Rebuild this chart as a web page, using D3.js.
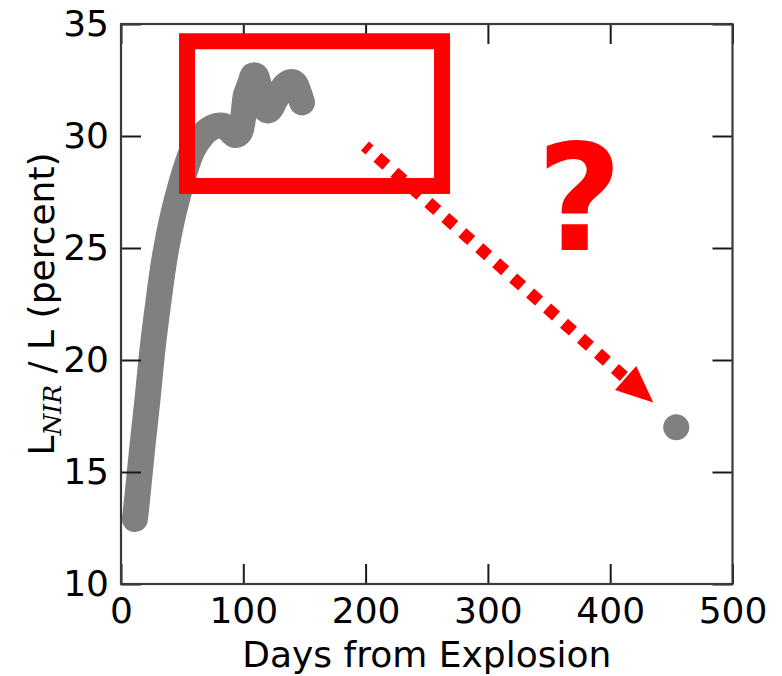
<!DOCTYPE html>
<html>
<head>
<meta charset="utf-8">
<script src="https://cdn.jsdelivr.net/npm/d3@7"></script>
<style>
  html, body { margin: 0; padding: 0; background: #fff; }
  svg { display: block; }
  text { font-family: "DejaVu Sans", sans-serif; }
</style>
</head>
<body>
<svg id="chart" width="782" height="676"></svg>
<script>
// NIR fraction of the bolometric light curve, early phase
const days = [11.4, 13.1, 17.2, 21.6, 25.7, 30.7, 36.4, 45.4, 58.5, 66, 72, 78, 84, 89, 93, 97,
              100, 102, 104, 106, 108, 110, 113, 116, 119, 122, 126, 130, 134, 138, 142, 145, 148];
const nirPercent = [12.9, 13.75, 15.98, 18.21, 20.45, 22.65, 24.8, 27.1, 29.375, 30.0, 30.3, 30.45, 30.45, 30.25, 30.05, 30.15,
                    30.9, 31.8, 32.1, 32.4, 32.7, 32.7, 32.2, 31.5, 31.15, 31.2, 31.6, 31.95, 32.25, 32.4, 32.35, 32.0, 31.5];

// late-time point
const lateDay = [454];
const latePercent = [17.0];

// highlight box and arrow (data coordinates)
const boxDays = [54, 262.5];
const boxPercent = [27.77, 34.23];
const arrowDays = [199.5, 435.2];
const arrowPercent = [29.55, 18.1];

const xTicks = [0, 100, 200, 300, 400, 500];
const yTicks = [10, 15, 20, 25, 30, 35];

const W = 782, H = 676;
const margin = { left: 121, right: W - 732.5, top: 24, bottom: H - 584 };

const svg = d3.select("#chart");

const x = d3.scaleLinear().domain([0, 500]).range([margin.left, W - margin.right]);
const y = d3.scaleLinear().domain([10, 35]).range([H - margin.bottom, margin.top]);

const gray = "#808080";
const red = "#ff0000";

// curve
const line = d3.line()
  .x((d, i) => x(days[i]))
  .y((d, i) => y(nirPercent[i]))
  .curve(d3.curveCatmullRom.alpha(0.5));

svg.append("path")
  .datum(days)
  .attr("d", line)
  .attr("fill", "none")
  .attr("stroke", gray)
  .attr("stroke-width", 26)
  .attr("stroke-linecap", "round")
  .attr("stroke-linejoin", "round");

svg.selectAll("circle.late")
  .data(lateDay)
  .join("circle")
  .attr("class", "late")
  .attr("cx", (d) => x(d))
  .attr("cy", (d, i) => y(latePercent[i]))
  .attr("r", 13)
  .attr("fill", gray);

// axes, ticks pointing inward on all four sides
const tickLen = 20;
const axisStyle = (g) => {
  g.select(".domain").remove();
  g.selectAll(".tick line").attr("stroke", "#1a1a1a").attr("stroke-width", 2);
  g.selectAll(".tick text")
    .attr("fill", "#000")
    .style("font-size", "36px")
    .style("font-family", "'DejaVu Sans', sans-serif");
};

svg.append("g")
  .attr("transform", `translate(0,${H - margin.bottom})`)
  .call(d3.axisBottom(x).tickValues(xTicks).tickFormat(d3.format("d"))
    .tickSizeInner(-tickLen).tickSizeOuter(0).tickPadding(13))
  .call(axisStyle);

svg.append("g")
  .attr("transform", `translate(0,${margin.top})`)
  .call(d3.axisTop(x).tickValues(xTicks).tickFormat("")
    .tickSizeInner(-tickLen).tickSizeOuter(0))
  .call(axisStyle);

svg.append("g")
  .attr("transform", `translate(${margin.left},0)`)
  .call(d3.axisLeft(y).tickValues(yTicks).tickFormat(d3.format("d"))
    .tickSizeInner(-tickLen).tickSizeOuter(0).tickPadding(12))
  .call(axisStyle);

svg.append("g")
  .attr("transform", `translate(${W - margin.right},0)`)
  .call(d3.axisRight(y).tickValues(yTicks).tickFormat("")
    .tickSizeInner(-tickLen).tickSizeOuter(0))
  .call(axisStyle);

// frame
svg.append("rect")
  .attr("x", margin.left)
  .attr("y", margin.top)
  .attr("width", W - margin.left - margin.right)
  .attr("height", H - margin.top - margin.bottom)
  .attr("fill", "none")
  .attr("stroke", "#3a3a3a")
  .attr("stroke-width", 2.2);

// axis titles
svg.append("text")
  .attr("x", (x(0) + x(500)) / 2)
  .attr("y", 667)
  .attr("text-anchor", "middle")
  .style("font-size", "36px")
  .text("Days from Explosion");

const yl = svg.append("text")
  .attr("transform", `translate(54,${(y(10) + y(35)) / 2}) rotate(-90)`)
  .attr("text-anchor", "middle")
  .style("font-size", "36px");
yl.append("tspan").text("L");
yl.append("tspan")
  .attr("dy", 7)
  .style("font-family", "'DejaVu Serif', serif")
  .style("font-style", "italic")
  .style("font-size", "25px")
  .text("NIR");
yl.append("tspan").attr("dy", -7).text(" / L (percent)");

// highlight box
svg.append("rect")
  .attr("x", x(boxDays[0]))
  .attr("y", y(boxPercent[1]))
  .attr("width", x(boxDays[1]) - x(boxDays[0]))
  .attr("height", y(boxPercent[0]) - y(boxPercent[1]))
  .attr("fill", "none")
  .attr("stroke", red)
  .attr("stroke-width", 16);

// dotted arrow
const x0 = x(arrowDays[0]), y0 = y(arrowPercent[0]);
const x1 = x(arrowDays[1]), y1 = y(arrowPercent[1]);
const ang = Math.atan2(y1 - y0, x1 - x0);
const headLen = 37, headHalf = 16;
const bx = x1 - headLen * Math.cos(ang), by = y1 - headLen * Math.sin(ang);

svg.append("line")
  .attr("x1", x0).attr("y1", y0)
  .attr("x2", bx).attr("y2", by)
  .attr("stroke", red)
  .attr("stroke-width", 12)
  .attr("stroke-dasharray", "12,10.7")
  .attr("stroke-dashoffset", 6);

svg.append("path")
  .attr("d", d3.line()([
    [x1, y1],
    [bx - headHalf * Math.sin(ang), by + headHalf * Math.cos(ang)],
    [bx + headHalf * Math.sin(ang), by - headHalf * Math.cos(ang)]
  ]) + "Z")
  .attr("fill", red);

svg.append("text")
  .attr("x", 579.5)
  .attr("y", 250)
  .attr("text-anchor", "middle")
  .attr("fill", red)
  .style("font-size", "148px")
  .style("font-weight", "bold")
  .text("?");
</script>
</body>
</html>
